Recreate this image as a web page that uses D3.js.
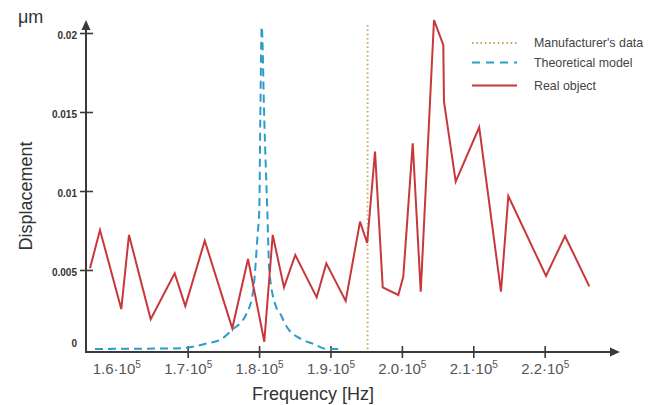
<!DOCTYPE html>
<html>
<head>
<meta charset="utf-8">
<script src="https://cdnjs.cloudflare.com/ajax/libs/d3/7.8.5/d3.min.js"></script>
<style>
  html, body { margin: 0; padding: 0; background: #fff; }
  svg { display: block; font-family: 'Liberation Sans', Arial, sans-serif; }
</style>
</head>
<body>
<div id="chart"><svg></svg></div>
<script>
// Real object (measured)
const realFreq = [156320, 157720, 160700, 161780, 164820, 168180, 169670, 172390, 176250, 178450,
  180730, 181910, 183490, 185070, 188070, 189420, 192130, 194140, 195140, 196240,
  197320, 199500, 200200, 201520, 202640, 204500, 205800, 205900, 207540, 210830,
  213880, 214910, 220190, 222850, 226250]
const realDisp = [0.00511, 0.00753, 0.00253, 0.00722, 0.00188, 0.00479, 0.00272, 0.00685, 0.00131, 0.00570,
  0.00046, 0.00722, 0.00390, 0.00595, 0.00327, 0.00542, 0.00304, 0.00806, 0.00671, 0.01249,
  0.00390, 0.00342, 0.00458, 0.01302, 0.00363, 0.02082, 0.01924, 0.01565, 0.01059, 0.01403,
  0.00363, 0.00968, 0.00462, 0.00715, 0.00396]

// Theoretical model
const modelFreq = [157020, 163320, 168930, 172670, 174530, 176210, 178270, 179190, 179810, 180030,
  180170, 180370, 180730, 181150, 181430, 182370, 182940, 183870, 186190, 187600,
  189470, 191330]
const modelDisp = [0, 0.00002, 0.00004, 0.00035, 0.00057, 0.0012, 0.00226, 0.00373, 0.00734, 0.0088,
  0.01449, 0.0204, 0.01449, 0.0088, 0.0050, 0.00268, 0.00226, 0.00141, 0.00057, 0.00032,
  0, 0]

// Manufacturer's data
const manufacturerFreq = 195200
const manufacturerTop = 0.0205

const xTicks = [160000, 170000, 180000, 190000, 200000, 210000, 220000]
const xTickMarks = [170000, 180000, 190000, 200000, 210000, 220000]
const yTicks = [0, 0.005, 0.01, 0.015, 0.02]

const legendItems = ["Manufacturer's data", 'Theoretical model', 'Real object']

const colors = { real: '#c8373a', model: '#2e9bc8', manu: '#c4a25a', axis: '#3a3a3a' }

const svg = d3.select('#chart svg')
  .attr('width', 657)
  .attr('height', 405)

const x = d3.scaleLinear()
  .domain([155760, 230550])
  .range([86, 620])
const y = d3.scaleLinear()
  .domain([0, 0.02])
  .range([349, 33])
const axisY = 352

// x axis
const gx = svg.append('g')
  .attr('transform', 'translate(0,' + axisY + ')')
  .call(d3.axisBottom(x).tickValues(xTicks).tickSize(0).tickFormat(() => ''))
gx.select('.domain').remove()
gx.selectAll('.tick text')
  .attr('y', 11)
  .attr('dy', '0.71em')
  .attr('fill', '#555')
  .attr('font-size', '15px')
  .each(function(d) {
    const t = d3.select(this)
    t.append('tspan').text((d / 1e5).toFixed(1) + '\u00b710')
    t.append('tspan').attr('font-size', '10px').attr('dy', '-0.55em').text('5')
  })
gx.selectAll('.tick')
  .filter(d => xTickMarks.includes(d))
  .append('line')
  .attr('y1', -6)
  .attr('y2', 6)
  .attr('stroke', colors.axis)
  .attr('stroke-width', 1.6)

svg.append('line')
  .attr('x1', x.range()[0] - 1).attr('x2', 612)
  .attr('y1', axisY).attr('y2', axisY)
  .attr('stroke', colors.axis)
  .attr('stroke-width', 2)
svg.append('path')
  .attr('d', 'M620,' + axisY + 'L610,' + (axisY - 4.5) + 'L610,' + (axisY + 4.5) + 'Z')
  .attr('fill', colors.axis)

// y axis
const gy = svg.append('g')
  .attr('transform', 'translate(' + x.range()[0] + ',0)')
  .call(d3.axisLeft(y).tickValues(yTicks).tickSize(0).tickPadding(9).tickFormat(d => String(d)))
gy.select('.domain').remove()
gy.selectAll('.tick text')
  .attr('fill', '#333')
  .attr('font-size', '10px')
  .attr('font-weight', 'bold')
  .attr('dy', d => d === 0 ? '-0.3em' : '0.5em')
gy.selectAll('.tick')
  .filter(d => d > 0)
  .append('line')
  .attr('x1', -6)
  .attr('x2', 7)
  .attr('stroke', colors.axis)
  .attr('stroke-width', 1.6)

svg.append('line')
  .attr('x1', 86).attr('x2', 86)
  .attr('y1', axisY + 1).attr('y2', 29)
  .attr('stroke', colors.axis)
  .attr('stroke-width', 2)
svg.append('path')
  .attr('d', 'M86,20L81.5,30L90.5,30Z')
  .attr('fill', colors.axis)

// axis titles
svg.append('text')
  .attr('x', 313)
  .attr('y', 400)
  .attr('text-anchor', 'middle')
  .attr('font-size', '18px')
  .attr('fill', '#333')
  .text('Frequency [Hz]')
svg.append('text')
  .attr('transform', 'translate(32,196) rotate(-90)')
  .attr('text-anchor', 'middle')
  .attr('font-size', '18px')
  .attr('fill', '#333')
  .text('Displacement')
svg.append('text')
  .attr('x', 18)
  .attr('y', 23)
  .attr('font-size', '18px')
  .attr('fill', '#333')
  .text('\u03bcm')

// manufacturer's line
svg.append('line')
  .attr('x1', x(manufacturerFreq)).attr('x2', x(manufacturerFreq))
  .attr('y1', y(manufacturerTop)).attr('y2', axisY - 1)
  .attr('stroke', colors.manu)
  .attr('stroke-width', 1.8)
  .attr('stroke-dasharray', '1.5,2.8')

// theoretical model
const modelData = modelFreq.map((f, i) => ({ f: f, v: modelDisp[i] }))
svg.append('path')
  .datum(modelData)
  .attr('fill', 'none')
  .attr('stroke', colors.model)
  .attr('stroke-width', 2)
  .attr('stroke-dasharray', '8,5')
  .attr('d', d3.line().x(d => x(d.f)).y(d => y(d.v)).curve(d3.curveMonotoneX))

// real object
const realData = realFreq.map((f, i) => ({ f: f, v: realDisp[i] }))
svg.append('path')
  .datum(realData)
  .attr('fill', 'none')
  .attr('stroke', colors.real)
  .attr('stroke-width', 2)
  .attr('stroke-linejoin', 'miter')
  .attr('d', d3.line().x(d => x(d.f)).y(d => y(d.v)))

// legend
const legend = svg.append('g')
  .attr('transform', 'translate(472,43)')
const dashes = ['1.5,2.8', '8,6', null]
const strokes = [colors.manu, colors.model, colors.real]
legend.selectAll('g')
  .data(legendItems)
  .enter()
  .append('g')
  .attr('transform', (d, i) => 'translate(0,' + [0, 19.5, 42.5][i] + ')')
  .each(function(d, i) {
    const g = d3.select(this)
    g.append('line')
      .attr('x1', 0).attr('x2', 45)
      .attr('stroke', strokes[i])
      .attr('stroke-width', i === 0 ? 1.8 : 2)
      .attr('stroke-dasharray', dashes[i])
    g.append('text')
      .attr('x', 62)
      .attr('dy', '0.36em')
      .attr('font-size', '12.4px')
      .attr('fill', '#444')
      .text(d)
  })
</script>
</body>
</html>
